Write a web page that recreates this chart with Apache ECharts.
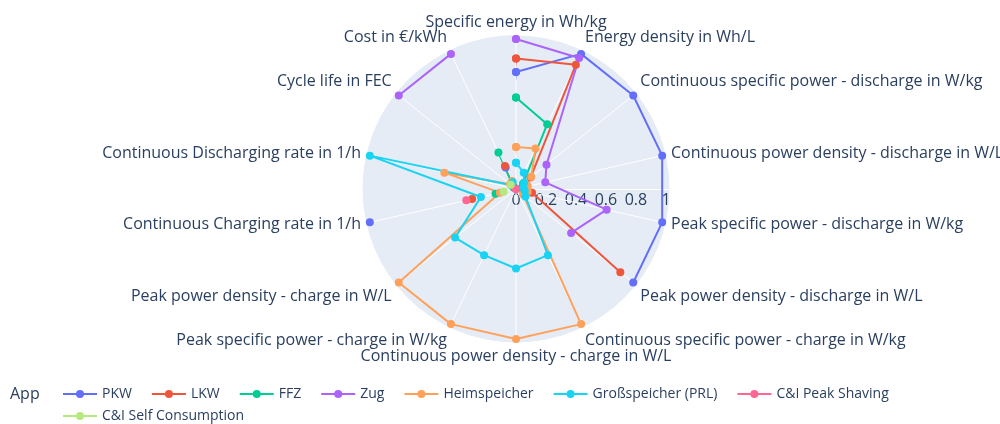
<!DOCTYPE html>
<html>
<head>
<meta charset="utf-8">
<script src="https://cdn.jsdelivr.net/npm/echarts@6/dist/echarts.min.js"></script>
<style>
  html, body { margin: 0; padding: 0; background: #fff; }
  #chart { width: 1000px; height: 424px; }
</style>
</head>
<body>
<div id="chart"></div>
<script>
// Achsen (Kategorien), im Uhrzeigersinn ab oben
const categories = [
    'Specific energy in Wh/kg',
    'Energy density in Wh/L',
    'Continuous specific power - discharge in W/kg',
    'Continuous power density - discharge in W/L',
    'Peak specific power - discharge in W/kg',
    'Peak power density - discharge in W/L',
    'Continuous specific power - charge in W/kg',
    'Continuous power density - charge in W/L',
    'Peak specific power - charge in W/kg',
    'Peak power density - charge in W/L',
    'Continuous Charging rate in 1/h',
    'Continuous Discharging rate in 1/h',
    'Cycle life in FEC',
    'Cost in €/kWh'
];

const radialTicks = [0, 0.2, 0.4, 0.6, 0.8, 1];

// normierte Werte je Anwendung (null = kein Wert)
const pkw = [0.78, 1, 1, 1, 1, 1, null, null, null, null, 1, null, 0.01, 0.16];
const lkw = [0.87, 0.92, 0.125, 0.07, 0.11, 0.89, null, null, null, null, 0.30, null, 0.02, 0.17];
const ffz = [0.61, 0.48, 0.06, 0.04, 0.05, null, null, null, null, null, 0.14, null, 0.02, 0.27];
const zug = [1, 0.97, 0.26, 0.2, 0.62, 0.47, null, null, null, null, null, null, 1, 1];
const heimspeicher = [0.28, 0.3, 0.13, 0.08, 0.08, 0.06, 1, 1, 1, 1, 0.11, 0.49, 0.05, 0.06];
const grossspeicher = [0.175, 0.12, 0.07, 0.05, 0.06, 0.08, 0.49, 0.53, 0.49, 0.52, 0.24, 1, 0.04, 0.05];
const peakShaving = [0, null, null, null, null, null, null, null, null, null, 0.34, null, null, null];
const selfConsumption = [null, null, null, null, null, null, null, null, null, null, 0.085, null, 0.045, null];

const apps = ['PKW', 'LKW', 'FFZ', 'Zug', 'Heimspeicher', 'Großspeicher (PRL)', 'C&I Peak Shaving', 'C&I Self Consumption'];
const appValues = [pkw, lkw, ffz, zug, heimspeicher, grossspeicher, peakShaving, selfConsumption];
const colors = ['#636efa', '#EF553B', '#00cc96', '#ab63fa', '#FFA15A', '#19d3f3', '#FF6692', '#B6E880'];

const RADIAL_MAX = 1.027;
const CENTER = [516, 189];
const RADIUS = 154;
const TEXT_COLOR = '#2a3f5f';
const FONT = '"Open Sans", sans-serif';

// Linie schließen: ersten Punkt am Ende wiederholen
function closedLoop(values) {
    const pts = values.map((v, i) => [v === null ? '-' : v, i]);
    pts.push([values[0] === null ? '-' : values[0], 0]);
    return pts;
}

const chart = echarts.init(document.getElementById('chart'));

chart.setOption({
    animation: false,
    color: colors,
    title: {
        text: 'App',
        left: 5,
        top: 381,
        textStyle: { color: TEXT_COLOR, fontSize: 16, fontWeight: 'normal', fontFamily: FONT }
    },
    legend: {
        data: apps,
        orient: 'horizontal',
        left: 62,
        top: 387,
        width: 900,
        itemWidth: 34,
        itemHeight: 10,
        itemGap: 8,
        padding: 0,
        textStyle: {
            color: TEXT_COLOR,
            fontSize: 14,
            fontFamily: FONT,
            lineHeight: 14,
            padding: [0, 11, 0, 0]
        }
    },
    polar: [
        { center: CENTER, radius: RADIUS },
        { center: CENTER, radius: RADIUS }
    ],
    // Polar 0: Hintergrund, Kreise und radiale Achse nach rechts
    angleAxis: [
        {
            polarIndex: 0,
            type: 'value',
            startAngle: 0,
            axisLine: { show: false },
            axisTick: { show: false },
            axisLabel: { show: false },
            splitLine: { show: false }
        },
        {
            polarIndex: 1,
            type: 'category',
            data: categories,
            startAngle: 90,
            clockwise: true,
            boundaryGap: false,
            z: 1,
            axisLine: { show: true, lineStyle: { color: '#fff', width: 1 } },
            axisTick: { show: false },
            axisLabel: { color: TEXT_COLOR, fontSize: 16, fontFamily: FONT, margin: 5 },
            splitLine: { show: true, lineStyle: { color: '#fff', width: 1 } }
        }
    ],
    radiusAxis: [
        {
            polarIndex: 0,
            type: 'value',
            min: 0,
            max: RADIAL_MAX,
            interval: 0.2,
            z: 0,
            axisLine: { show: true, lineStyle: { color: '#fff', width: 1 } },
            axisTick: { show: false },
            axisLabel: {
                color: TEXT_COLOR,
                fontSize: 16,
                fontFamily: FONT,
                margin: -3,
                verticalAlign: 'top',
                showMaxLabel: false,
                formatter: v => (radialTicks.includes(Math.round(v * 10) / 10) ? String(Math.round(v * 10) / 10) : '')
            },
            splitLine: { show: true, lineStyle: { color: '#fff', width: 1 } },
            splitArea: { show: true, areaStyle: { color: ['#E5ECF6'] } }
        },
        {
            polarIndex: 1,
            type: 'value',
            min: 0,
            max: RADIAL_MAX,
            interval: 0.2,
            axisLine: { show: false },
            axisTick: { show: false },
            axisLabel: { show: false },
            splitLine: { show: false }
        }
    ],
    series: apps.map((name, i) => ({
        name: name,
        type: 'line',
        coordinateSystem: 'polar',
        polarIndex: 1,
        data: closedLoop(appValues[i]),
        symbol: 'circle',
        symbolSize: 8,
        showSymbol: true,
        connectNulls: false,
        lineStyle: { width: 2, color: colors[i] },
        itemStyle: { color: colors[i] }
    }))
});
</script>
</body>
</html>
